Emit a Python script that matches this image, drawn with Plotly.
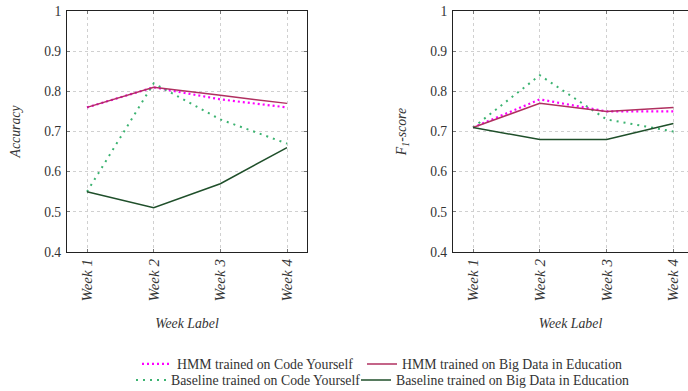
import plotly.graph_objects as go

weeks = ["Week 1", "Week 2", "Week 3", "Week 4"]
yticks = [0.4, 0.5, 0.6, 0.7, 0.8, 0.9, 1.0]
ytick_labels = ["0.4", "0.5", "0.6", "0.7", "0.8", "0.9", "1"]

acc_hmm_code = [0.76, 0.81, 0.78, 0.76]
acc_hmm_bigdata = [0.76, 0.81, 0.79, 0.77]
acc_base_code = [0.55, 0.82, 0.73, 0.67]
acc_base_bigdata = [0.55, 0.51, 0.57, 0.66]

f1_hmm_code = [0.71, 0.78, 0.75, 0.75]
f1_hmm_bigdata = [0.71, 0.77, 0.75, 0.76]
f1_base_code = [0.71, 0.84, 0.73, 0.70]
f1_base_bigdata = [0.71, 0.68, 0.68, 0.72]

names = ["HMM trained on Code Yourself", "HMM trained on Big Data in Education",
         "Baseline trained on Code Yourself", "Baseline trained on Big Data in Education"]

W, H = 688, 391
FONT = "Liberation Serif"
TXT = "#333333"

def px_x(v):
    return v / W

def px_y(v):
    return 1 - v / H

styles = [
    dict(color="#ff00ff", width=2.2, dash="2px,3px"),
    dict(color="#b03060", width=1.5, dash="solid"),
    dict(color="#3cb371", width=2, dash="2px,5px"),
    dict(color="#1f4f2a", width=1.5, dash="solid"),
]
legend_ids = ["legend", "legend2", "legend3", "legend4"]

xidx = list(range(len(weeks)))
fig = go.Figure()
acc = [acc_hmm_code, acc_hmm_bigdata, acc_base_code, acc_base_bigdata]
f1 = [f1_hmm_code, f1_hmm_bigdata, f1_base_code, f1_base_bigdata]
draw_order = [0, 2, 1, 3]
for i in draw_order:
    fig.add_trace(go.Scatter(x=xidx, y=acc[i], mode="lines", name=names[i], line=styles[i],
                             xaxis="x", yaxis="y", legend=legend_ids[i]))
for i in draw_order:
    fig.add_trace(go.Scatter(x=xidx, y=f1[i], mode="lines", name=names[i], line=styles[i],
                             xaxis="x2", yaxis="y2", showlegend=False))

step = 66.8
GRID = dict(showgrid=True, gridcolor="#d0d0d0", griddash="3px,3px", gridwidth=0.8)
common_x = dict(tickmode="array", tickvals=xidx, ticktext=weeks, tickangle=-90, **GRID,
                showline=True, linecolor="#222222", linewidth=1.2, mirror="ticks",
                ticks="inside", ticklen=3, tickcolor="#777777", zeroline=False,
                tickfont=dict(family=FONT, size=15, color=TXT, style="italic"),
                title=dict(text="Week Label", standoff=17,
                           font=dict(family=FONT, size=13.8, color=TXT, style="italic")))
common_y = dict(tickmode="array", tickvals=yticks, ticktext=ytick_labels, range=[0.4, 1.0], **GRID,
                showline=True, linecolor="#222222", linewidth=1.2,
                ticks="inside", ticklen=3, tickcolor="#777777", zeroline=False,
                tickfont=dict(family=FONT, size=13.6, color=TXT), ticklabelstandoff=2,
                ticklabeloverflow="allow",
                domain=[px_y(252), px_y(11)])

l1, r1 = 67, 307
l2 = 453
fig.update_layout(
    width=W, height=H, margin=dict(l=0, r=0, t=0, b=0, autoexpand=False),
    plot_bgcolor="white", paper_bgcolor="white",
    font=dict(family=FONT, color=TXT),
    xaxis=dict(common_x, domain=[px_x(l1), px_x(r1)], range=[-0.3, 3.3], anchor="y"),
    yaxis=dict(common_y, mirror="ticks", anchor="x",
               title=dict(text="Accuracy", standoff=20,
                          font=dict(family=FONT, size=13.8, color=TXT, style="italic"))),
    xaxis2=dict(common_x, domain=[px_x(l2), 1.0], range=[-0.3, (W - l2) / step - 0.3], anchor="y2"),
    yaxis2=dict(common_y, mirror=False, anchor="x2",
                title=dict(text="F<sub>1</sub>-score", standoff=20,
                           font=dict(family=FONT, size=13.8, color=TXT, style="italic"))),
)

leg_font = dict(family=FONT, size=13.8, color=TXT)
leg_pos = {"legend": (137, 364), "legend3": (131, 380), "legend2": (362, 364), "legend4": (356, 380)}
for lid, (px, py) in leg_pos.items():
    fig.update_layout({lid: dict(x=px_x(px), y=px_y(py), xanchor="left", yanchor="middle",
                                 bgcolor="rgba(0,0,0,0)", borderwidth=0, font=leg_font)})

fig.write_html("out.html", config={"displayModeBar": False},
               post_script="document.body.style.margin='0px';")
